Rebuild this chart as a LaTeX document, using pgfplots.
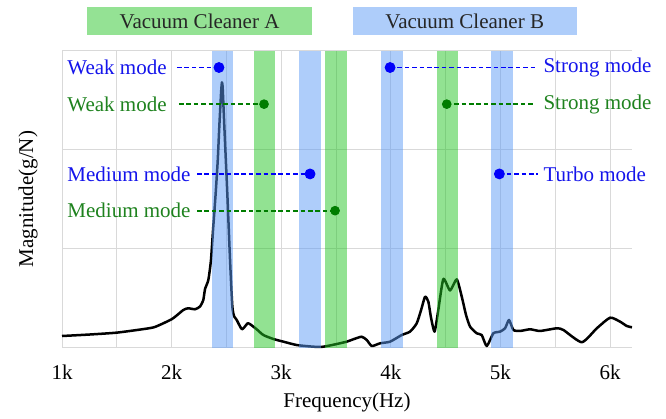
\documentclass[border=0pt]{standalone}
\usepackage{pgfplots}
\pgfplotsset{compat=1.18}
\usepackage{fontspec}
\setmainfont{Liberation Serif}
\definecolor{bandblue}{RGB}{93,155,245}
\definecolor{bandgreen}{RGB}{37,197,37}
\definecolor{boxblue}{RGB}{174,205,250}
\definecolor{boxgreen}{RGB}{148,226,148}
\definecolor{txtblue}{RGB}{20,20,235}
\definecolor{txtgreen}{RGB}{30,130,30}
\definecolor{dotblue}{RGB}{0,0,250}
\definecolor{dotgreen}{RGB}{0,125,0}
\definecolor{gridgray}{RGB}{217,217,217}
\begin{document}
\begin{tikzpicture}[font=\fontsize{10.5}{12.6}\selectfont]
\begin{axis}[name=ax,
  scale only axis, width=285pt, height=148.5pt,
  xmin=1000, xmax=6200, ymin=0, ymax=3,
  axis line style={draw=none},
  clip=false,
  xtick={1000,2000,3000,4000,5000,6000},
  xticklabels={1k,2k,3k,4k,5k,6k},
  minor xtick={1500,2500,3500,4500,5500},
  ytick={0,1,2,3}, yticklabels={},
  grid=both,
  grid style={gridgray, line width=0.5pt},
  minor grid style={gridgray, line width=0.5pt},
  major tick length=0pt, minor tick length=0pt,
  ticklabel style={font=\fontsize{10.5}{12.6}\selectfont},
  xticklabel style={yshift=-5pt},
  xlabel={Frequency(Hz)}, ylabel={Magnitude(g/N)},
  label style={font=\fontsize{10.5}{12.6}\selectfont},
  xlabel style={at={(axis description cs:0.5,0)}, anchor=center, yshift=-27.5pt},
  ylabel style={at={(axis description cs:-0.0596,0.5)}, anchor=center},
]
% curve
\addplot[black, line width=1.25pt, smooth, tension=0.35, line join=round] coordinates {
(1000,0.118)(1250,0.133)(1499,0.152)(1750,0.189)(1849,0.21)(2004,0.29)(2107,0.381)(2152,0.398)(2214,0.388)(2259,0.416)(2289,0.482)(2305,0.593)(2335,0.684)(2359,0.886)(2380,1.222)(2402,1.56)(2421,1.896)(2435,2.232)(2451,2.57)(2459,2.68)(2466,2.62)(2481,2.232)(2508,1.56)(2533,0.886)(2554,0.414)(2572,0.313)(2594,0.28)(2642,0.186)(2693,0.246)(2720,0.234)(2776,0.186)(2837,0.128)(2928,0.088)(3019,0.061)(3141,0.027)(3293,0.01)(3384,0.01)(3506,0.037)(3598,0.061)(3658,0.085)(3734,0.111)(3780,0.078)(3826,0.017)(3901,0.044)(3993,0.061)(4099,0.128)(4175,0.162)(4236,0.246)(4276,0.381)(4312,0.515)(4342,0.465)(4367,0.30)(4399,0.162)(4433,0.381)(4479,0.694)(4540,0.578)(4601,0.691)(4647,0.515)(4686,0.33)(4723,0.212)(4784,0.145)(4829,0.128)(4875,0.017)(4935,0.145)(4996,0.162)(5042,0.196)(5078,0.28)(5118,0.179)(5179,0.169)(5270,0.186)(5361,0.169)(5514,0.196)(5574,0.179)(5742,0.055)(5879,0.196)(6000,0.303)(6091,0.263)(6152,0.219)(6200,0.206)
};
% bands
\addplot[draw=none, fill=bandblue, fill opacity=0.5] coordinates {(2370,0)(2560,0)(2560,3)(2370,3)} -- cycle;
\addplot[draw=none, fill=bandgreen, fill opacity=0.5] coordinates {(2752,0)(2943,0)(2943,3)(2752,3)} -- cycle;
\addplot[draw=none, fill=bandblue, fill opacity=0.5] coordinates {(3162,0)(3363,0)(3363,3)(3162,3)} -- cycle;
\addplot[draw=none, fill=bandgreen, fill opacity=0.5] coordinates {(3400,0)(3598,0)(3598,3)(3400,3)} -- cycle;
\addplot[draw=none, fill=bandblue, fill opacity=0.5] coordinates {(3911,0)(4109,0)(4109,3)(3911,3)} -- cycle;
\addplot[draw=none, fill=bandgreen, fill opacity=0.5] coordinates {(4421,0)(4610,0)(4610,3)(4421,3)} -- cycle;
\addplot[draw=none, fill=bandblue, fill opacity=0.5] coordinates {(4917,0)(5112,0)(5112,3)(4917,3)} -- cycle;
% dashed leaders
\addplot[dotblue, line width=0.9pt, dash pattern=on 2.3pt off 1.4pt] coordinates {(2049,2.83)(2432,2.83)};
\addplot[dotgreen, line width=0.9pt, dash pattern=on 2.3pt off 1.4pt] coordinates {(2067,2.46)(2843,2.46)};
\addplot[dotblue, line width=0.9pt, dash pattern=on 2.3pt off 1.4pt] coordinates {(2232,1.755)(3263,1.755)};
\addplot[dotgreen, line width=0.9pt, dash pattern=on 2.3pt off 1.4pt] coordinates {(2232,1.384)(3491,1.384)};
\addplot[dotblue, line width=0.9pt, dash pattern=on 2.3pt off 1.4pt] coordinates {(3993,2.83)(5316,2.83)};
\addplot[dotgreen, line width=0.9pt, dash pattern=on 2.3pt off 1.4pt] coordinates {(4510,2.46)(5316,2.46)};
\addplot[dotblue, line width=0.9pt, dash pattern=on 2.3pt off 1.4pt] coordinates {(4990,1.755)(5343,1.755)};
% dots
\addplot[only marks, mark=*, mark size=2.5pt, dotblue] coordinates {(2432,2.83)(3263,1.755)(3993,2.83)(4990,1.755)};
\addplot[only marks, mark=*, mark size=2.2pt, dotgreen] coordinates {(2843,2.46)(3491,1.384)(4510,2.46)};
% labels
\node[anchor=west, inner sep=0pt, text=txtblue] at (axis cs:1046,2.83) {Weak mode};
\node[anchor=west, inner sep=0pt, text=txtgreen] at (axis cs:1046,2.46) {Weak mode};
\node[anchor=west, inner sep=0pt, text=txtblue] at (axis cs:1046,1.755) {Medium mode};
\node[anchor=west, inner sep=0pt, text=txtgreen] at (axis cs:1046,1.384) {Medium mode};
\node[anchor=west, inner sep=0pt, text=txtblue] at (axis cs:5389,2.83) {Strong mode};
\node[anchor=west, inner sep=0pt, text=txtgreen] at (axis cs:5389,2.46) {Strong mode};
\node[anchor=west, inner sep=0pt, text=txtblue] at (axis cs:5389,1.755) {Turbo mode};
% titles
\node[fill=boxgreen, minimum width=112.5pt, minimum height=14pt, inner sep=0pt, text=black!85, yshift=14.85pt] at (axis cs:2255,3) {Vacuum Cleaner A};
\node[fill=boxblue, minimum width=112pt, minimum height=14pt, inner sep=0pt, text=black!85, yshift=14.85pt] at (axis cs:4674,3) {Vacuum Cleaner B};
\end{axis}
\path ([shift={(-31pt,-34.15pt)}]ax.south west) rectangle ([shift={(17pt,25.35pt)}]ax.north east);
\end{tikzpicture}
\end{document}
